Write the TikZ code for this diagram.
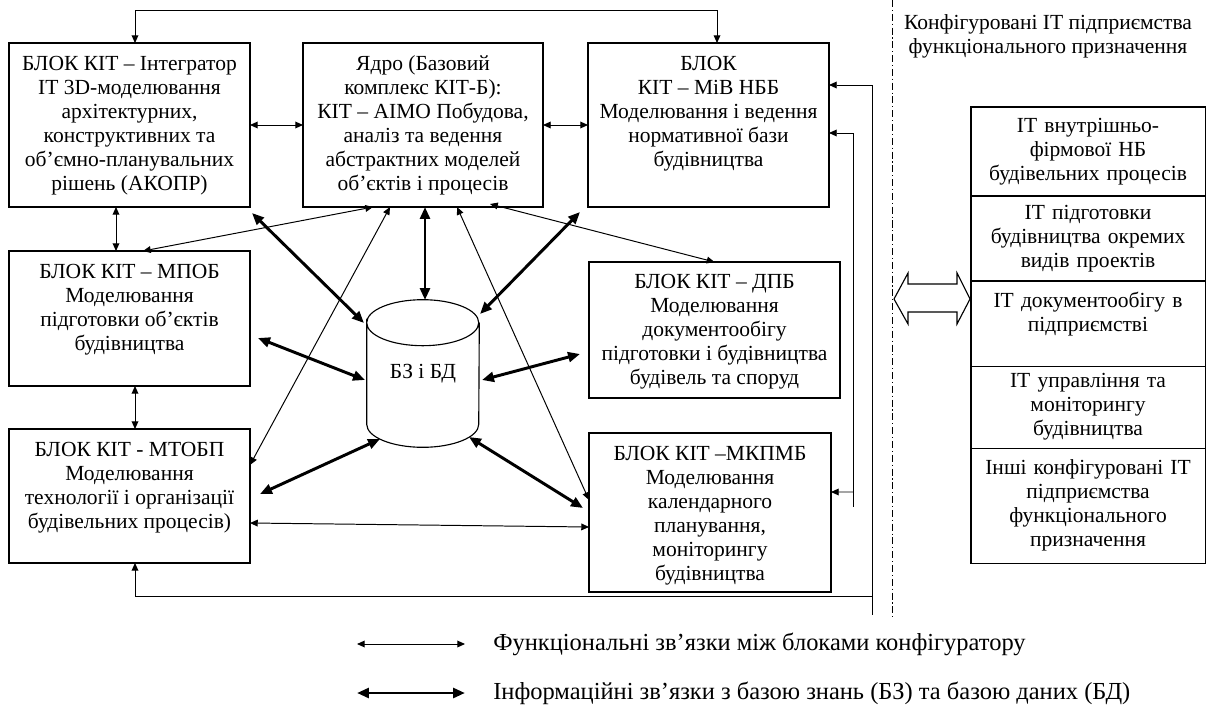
\documentclass[tikz,border=0pt]{standalone}
\usepackage{fontspec}
\setmainfont{Liberation Serif}
\usetikzlibrary{arrows.meta,calc,fit,positioning}

\tikzset{
  blok/.style={draw, line width=0.8pt, inner sep=0pt, outer sep=0pt},
  txt/.style={align=center, inner sep=0pt, font=\fontsize{15.3}{17.1}\selectfont},
  legtxt/.style={inner sep=0pt, font=\fontsize{17.4}{20}\selectfont},
  itbox/.style={blok, txt, text width=5.85cm, minimum width=5.85cm},
  link/.style={line width=0.7pt, >={Triangle[length=5.5pt,width=4.8pt]}},
  fline/.style={link, <->},
  iline/.style={line width=2.1pt, >={Triangle[length=8.5pt,width=7pt]}, <->}
}

\begin{document}
\begin{tikzpicture}[x=0.025cm, y=-0.025cm]
    \useasboundingbox (0,0) rectangle (1207,709);
    % blocks of the configurator
    \node[blok, fit={(9,43) (250,207)}] (a) {};
    \node[blok, fit={(303,43) (543,207)}] (core) {};
    \node[blok, fit={(588,43) (829,207)}] (miv) {};
    \node[blok, fit={(9,251) (250,386)}] (mpob) {};
    \node[blok, fit={(9,429) (250,563)}] (mtobp) {};
    \node[blok, fit={(589,262) (840,398)}] (dpb) {};
    \node[blok, fit={(589,433) (831,592)}] (mkpmb) {};
    \node[txt, anchor=north] at ($(a.north)+(0,12.5)$) {БЛОК КІТ – Інтегратор\\ІТ 3D-моделювання\\архітектурних,\\конструктивних та\\об’ємно-планувальних\\рішень (АКОПР)};
    \node[txt, anchor=north] at ($(core.north)+(0,12.5)$) {Ядро (Базовий\\комплекс КІТ-Б):\\КІТ – АІМО Побудова,\\аналіз та ведення\\абстрактних моделей\\об’єктів і процесів};
    \node[txt, anchor=north] at ($(miv.north)+(0,12.5)$) {БЛОК\\КІТ – МіВ НББ\\Моделювання і ведення\\нормативної бази\\будівництва};
    \node[txt, anchor=north] at ($(mpob.north)+(0,12.5)$) {БЛОК КІТ – МПОБ\\Моделювання\\підготовки об’єктів\\будівництва};
    \node[txt, anchor=north] at ($(mtobp.north)+(0,12.5)$) {БЛОК КІТ - МТОБП\\Моделювання\\технології і організації\\будівельних процесів)};
    \node[txt, anchor=north] at ($(dpb.north)+(0,11.5)$) {БЛОК КІТ – ДПБ\\Моделювання\\документообігу\\підготовки і будівництва\\будівель та споруд};
    \node[txt, anchor=north] at ($(mkpmb.north)+(0,12.5)$) {БЛОК КІТ –МКПМБ\\Моделювання\\календарного\\планування,\\моніторингу\\будівництва};
    % knowledge base and data base (cylinder)
    \node[txt, minimum width=2.8cm, minimum height=3.675cm] (bd) at (423,373.5) {БЗ і БД};
    \draw[line width=0.8pt] ($(bd.north west)+(0,23)$) arc[start angle=180, end angle=-180, x radius=1.4cm, y radius=0.575cm]
        -- ($(bd.south west)+(0,-23)$) arc[start angle=180, end angle=360, x radius=1.4cm, y radius=0.575cm]
        -- ($(bd.north east)+(0,23)$);

    % functional links
    \draw[fline] (a.east) -- (core.west);
    \draw[fline] (core.east) -- (miv.west);
    \draw[fline] ($(a.south)+(-13.5,0)$) -- ($(mpob.north)+(-13.5,0)$);
    \draw[fline] ($(mpob.south)+(5.5,0)$) -- ($(mtobp.north)+(5.5,0)$);
    \draw[fline] ($(core.south)+(-50,0)$) -- ($(mpob.north)+(13.5,0)$);
    \draw[fline] ($(core.south)+(-33,0)$) -- ($(mtobp.east)+(0,-31)$);
    \draw[fline] ($(core.south)+(34,0)$) -- ($(mkpmb.west)+(0,-12.5)$);
    \draw[fline] ($(core.south)+(67,-3)$) -- (dpb.north);
    \draw[fline] ($(mtobp.east)+(0,27)$) -- ($(mkpmb.west)+(0,14.5)$);
    \draw[fline] ($(a.north)+(5.5,0)$) -- ++(0,-33) -| ($(miv.north)+(8.5,0)$);

    % feedback lines on the right
    \coordinate (fb1) at (872,615);
    \coordinate (fb1j) at (872,596);
    \coordinate (fb2) at (853,507);
    \coordinate (fb2j) at (853,492);
    \draw[link, <-] ($(miv.east)+(0,-40)$) -| (fb1);
    \draw[link, ->] (fb1j) -| ($(mtobp.south)+(5.5,0)$);
    \draw[link, <-] ($(miv.east)+(0,8)$) -| (fb2);
    \draw[link, ->] (fb2j) -- ($(mkpmb.east)+(0,-20.5)$);

    % information links with the base
    \draw[iline] ($(a.south east)+(2,6)$) -- ($(bd.center)+(-59,-50.5)$);
    \draw[iline] ($(core.south)+(2,0)$) -- ($(bd.center)+(2,-73.5)$);
    \draw[iline] ($(miv.south west)+(-8,5)$) -- ($(bd.center)+(57,-59.5)$);
    \draw[iline] ($(mpob.east)+(8,19.5)$) -- ($(bd.center)+(-58,6.5)$);
    \draw[iline] ($(dpb.west)+(-9,24)$) -- ($(bd.center)+(59,6.5)$);
    \draw[iline] ($(mtobp.east)+(10,-2)$) -- ($(bd.center)+(-43,65.5)$);
    \draw[iline] ($(mkpmb.west)+(-6,-4.5)$) -- ($(bd.center)+(46,63.5)$);

    % configured IT of the enterprise
    \draw[line width=0.6pt, dash pattern=on 5pt off 2pt on 0.8pt off 2pt] (892,0) -- (892,618);
    \node[txt] (ttl) at (1048,36.5) {Конфігуровані ІТ підприємства\\функціонального призначення};
    \node[itbox, minimum height=2.225cm, anchor=north west] (r1) at (971,107) {ІТ внутрішньо-\\фірмової НБ\\будівельних процесів};
    \node[itbox, minimum height=2.125cm, below=0pt of r1] (r2) {ІТ підготовки\\будівництва окремих\\видів проектів};
    \node[itbox, minimum height=2.125cm, below=0pt of r2] (r3) {ІТ документообігу в\\підприємстві\\\mbox{}};
    \node[itbox, minimum height=2.05cm, below=0pt of r3] (r4) {ІТ управління та\\моніторингу\\будівництва};
    \node[itbox, minimum height=2.875cm, below=0pt of r4] (r5) {Інші конфігуровані ІТ\\підприємства\\функціонального\\призначення};
    \draw[line width=0.8pt] (894,299) -- (908,273) -- (908,284) -- (957,284) -- (957,273) -- (970,299)
        -- (957,324) -- (957,312) -- (908,312) -- (908,324) -- cycle;

    % legend
    \node[legtxt, anchor=west] (lg1) at (493,644) {Функціональні зв’язки між блоками конфігуратору};
    \node[legtxt, anchor=west] (lg2) at (493,693) {Інформаційні зв’язки з базою знань (БЗ) та базою даних (БД)};
    \draw[fline] ($(lg1.west)+(-136,0)$) -- ($(lg1.west)+(-28,0)$);
    \draw[iline] ($(lg2.west)+(-136,0)$) -- ($(lg2.west)+(-28,0)$);
\end{tikzpicture}
\end{document}
